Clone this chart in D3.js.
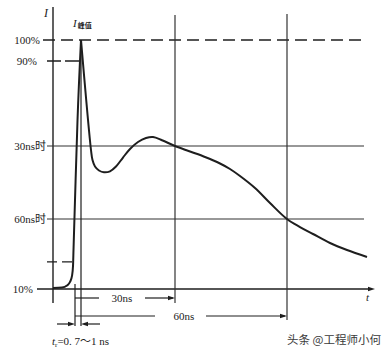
<!DOCTYPE html>
<html>
<head>
<meta charset="utf-8">
<script src="https://cdn.jsdelivr.net/npm/d3@7/dist/d3.min.js"></script>
<style>
  html, body { margin: 0; padding: 0; background: #fff; }
  svg { display: block; }
  .lbl { font-family: "Liberation Serif", "DejaVu Serif", "Noto Sans CJK SC", serif; fill: #222; }
</style>
</head>
<body>
<svg id="chart" width="390" height="355"></svg>
<script>
// ---------- data ----------
const timeMarks = [0, 1, 30, 60];                 // ns : start, peak, 30 ns, 60 ns
const levelValues = [10, 90, 100];                // percent of peak
const levelLabels = ["10%", "90%", "100%"];
const timeLevelNames = ["30ns时", "60ns时"];
const timeLevelValues = [60.18, 34.56];           // current level at 30 ns / 60 ns (%)
const dimLabels = ["30ns", "60ns"];
const riseT = [-3.67, -2.17, -1.33, -0.83, -0.5, -0.33, -0.25, 0, 0.42, 1];
const riseI = [10.35, 10.5, 11.2, 12.5, 14.6, 18.1, 23.7, 41.2, 69.3, 100];
const fallT = [1, 4.085, 4.548, 5.319, 6.553, 8.096, 9.947, 11.798, 13.957, 16.117, 18.585, 21.053, 23.213, 25.989, 30,
               34.018, 38.036, 42.054, 44.732, 47.411, 51.429, 55.446, 60, 63.482, 66.964, 71.518, 76.071, 81.429];
const fallI = [100, 58.77, 55.26, 52.98, 51.58, 50.95, 51.30, 52.98, 56.14, 59.12, 61.58, 62.98, 63.33, 62.21, 60.18,
               58.25, 56.32, 54.04, 52.11, 49.65, 45.44, 40.18, 34.56, 31.75, 29.30, 26.14, 23.68, 21.23];

// ---------- scales (schematic, piecewise) ----------
const x = d3.scaleLinear().domain([0, 1, 30, 60]).range([75, 81, 175, 287]);
const y = d3.scaleLinear().domain([10, 90, 100]).range([289, 61, 40]);

const svg = d3.select("#chart");
const ink = "#1e1e1e";
const AX = 53;              // y-axis position
const RIGHT = 364;          // right end of level lines

function arrow(px, py, dir) { // dir: 1 = pointing right, -1 = pointing left
  svg.append("path")
    .attr("d", `M${px},${py} L${px - dir * 7},${py - 2.2} L${px - dir * 7},${py + 2.2} Z`)
    .attr("fill", ink);
}

// y axis
svg.append("line").attr("x1", AX).attr("x2", AX).attr("y1", 7).attr("y2", 303)
  .attr("stroke", ink).attr("stroke-width", 1.4);
svg.append("text").attr("class", "lbl").attr("x", 44).attr("y", 17)
  .attr("font-size", 12).attr("font-style", "italic").text("I");

// baseline (10%) with arrow
svg.append("line").attr("x1", 37).attr("x2", 372).attr("y1", y(levelValues[0])).attr("y2", y(levelValues[0]))
  .attr("stroke", ink).attr("stroke-width", 1.4);
arrow(375, y(levelValues[0]), 1);
svg.append("text").attr("class", "lbl").attr("x", 366).attr("y", 301)
  .attr("font-size", 11).attr("font-style", "italic").text("t");

// 100% dashed
svg.append("line").attr("x1", 43).attr("x2", RIGHT).attr("y1", y(levelValues[2])).attr("y2", y(levelValues[2]))
  .attr("stroke", ink).attr("stroke-width", 1.3).attr("stroke-dasharray", "12,6");
// 90% dashed short
svg.append("line").attr("x1", 47).attr("x2", x(1) - 2).attr("y1", y(levelValues[1])).attr("y2", y(levelValues[1]))
  .attr("stroke", ink).attr("stroke-width", 1.3).attr("stroke-dasharray", "14,4");
// short dashed mark near rise foot
svg.append("line").attr("x1", 47).attr("x2", x(-0.3)).attr("y1", y(19.5)).attr("y2", y(19.5))
  .attr("stroke", ink).attr("stroke-width", 1.3).attr("stroke-dasharray", "10,5");

// level labels
const lvlPos = [[33, 293], [37, 66], [40, 45]];
levelLabels.forEach((t, i) => {
  svg.append("text").attr("class", "lbl").attr("x", lvlPos[i][0]).attr("y", y(levelValues[i]) + 4)
    .attr("text-anchor", "end").attr("font-size", 11).text(t);
});

// 30ns / 60ns level lines
timeLevelValues.forEach((v, i) => {
  svg.append("line").attr("x1", 47).attr("x2", RIGHT).attr("y1", y(v)).attr("y2", y(v))
    .attr("stroke", "#333").attr("stroke-width", 1.2);
  svg.append("text").attr("class", "lbl").attr("x", 46).attr("y", y(v) + 4)
    .attr("text-anchor", "end").attr("font-size", 11).text(timeLevelNames[i]);
});

// vertical time marks
svg.append("line").attr("x1", x(timeMarks[0])).attr("x2", x(timeMarks[0])).attr("y1", 284).attr("y2", 326)
  .attr("stroke", ink).attr("stroke-width", 1.2);
svg.append("line").attr("x1", x(timeMarks[1])).attr("x2", x(timeMarks[1])).attr("y1", y(100)).attr("y2", 326)
  .attr("stroke", ink).attr("stroke-width", 1.2);
svg.append("line").attr("x1", x(timeMarks[2])).attr("x2", x(timeMarks[2])).attr("y1", 15).attr("y2", 303)
  .attr("stroke", "#333").attr("stroke-width", 1.2);
svg.append("line").attr("x1", x(timeMarks[3])).attr("x2", x(timeMarks[3])).attr("y1", 14).attr("y2", 320)
  .attr("stroke", "#333").attr("stroke-width", 1.2);

// curve
const rise = riseT.map((t, i) => [t, riseI[i]]);
const fall = fallT.map((t, i) => [t, fallI[i]]);
const riseLine = d3.line().x(d => x(d[0])).y(d => y(d[1])).curve(d3.curveMonotoneX);
const fallLine = d3.line().x(d => x(d[0])).y(d => y(d[1])).curve(d3.curveCatmullRom.alpha(0.5));
svg.append("path").attr("d", riseLine(rise)).attr("fill", "none")
  .attr("stroke", ink).attr("stroke-width", 2);
svg.append("path").attr("d", fallLine(fall)).attr("fill", "none")
  .attr("stroke", ink).attr("stroke-width", 2);

// peak label
const pk = svg.append("text").attr("class", "lbl").attr("x", x(1) - 8).attr("y", 27).attr("font-size", 11);
pk.append("tspan").attr("font-style", "italic").text("I");
pk.append("tspan").attr("font-size", 7).attr("dx", 1).attr("dy", 1)
  .attr("font-family", "Noto Sans CJK SC").attr("font-weight", "bold").text("峰值");

// dimension: 30ns
const y30 = 298, y60 = 316;
svg.append("line").attr("x1", x(0)).attr("x2", 99).attr("y1", y30).attr("y2", y30).attr("stroke", ink).attr("stroke-width", 1.2);
svg.append("line").attr("x1", 145).attr("x2", x(30) - 2).attr("y1", y30).attr("y2", y30).attr("stroke", ink).attr("stroke-width", 1.2);
arrow(x(30), y30, 1);
svg.append("text").attr("class", "lbl").attr("x", 122).attr("y", y30 + 4).attr("text-anchor", "middle")
  .attr("font-size", 11).text(dimLabels[0]);
// dimension: 60ns
svg.append("line").attr("x1", x(0)).attr("x2", 155).attr("y1", y60).attr("y2", y60).attr("stroke", ink).attr("stroke-width", 1.2);
svg.append("line").attr("x1", 206).attr("x2", x(60) - 2).attr("y1", y60).attr("y2", y60).attr("stroke", ink).attr("stroke-width", 1.2);
arrow(x(60), y60, 1);
svg.append("text").attr("class", "lbl").attr("x", 184).attr("y", y60 + 4).attr("text-anchor", "middle")
  .attr("font-size", 11).text(dimLabels[1]);

// rise-time arrows
const yr = 324;
svg.append("line").attr("x1", 57).attr("x2", x(0) - 3).attr("y1", yr).attr("y2", yr).attr("stroke", ink).attr("stroke-width", 1.2);
arrow(x(0), yr, 1);
svg.append("line").attr("x1", 100).attr("x2", x(1) + 3).attr("y1", yr).attr("y2", yr).attr("stroke", ink).attr("stroke-width", 1.2);
arrow(x(1), yr, -1);
const tr = svg.append("text").attr("class", "lbl").attr("x", 52).attr("y", 345).attr("font-size", 11);
tr.append("tspan").attr("font-style", "italic").text("t");
tr.append("tspan").attr("font-size", 7).attr("dy", 2).text("r");
tr.append("tspan").attr("dy", -2).text("=0. 7～1 ns");

// watermark
svg.append("text").attr("x", 381).attr("y", 344).attr("text-anchor", "end")
  .attr("font-family", "Noto Sans CJK SC").attr("font-size", 11.5).attr("fill", "#3a3a3a")
  .text("头条 @工程师小何");
</script>
</body>
</html>
